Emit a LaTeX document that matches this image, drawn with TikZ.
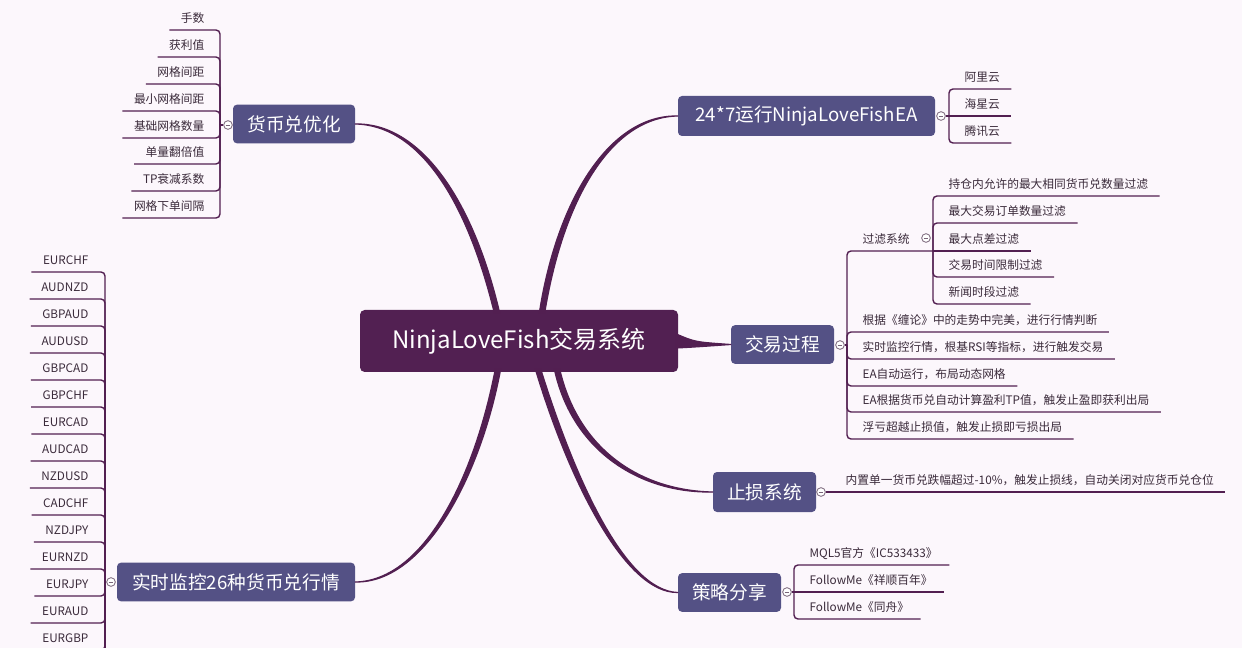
\documentclass[tikz,border=0pt]{standalone}
\usepackage{fontspec}
\setmainfont{Noto Sans CJK SC}
\usetikzlibrary{calc}
\definecolor{bgc}{RGB}{252,247,252}
\definecolor{rootc}{RGB}{82,32,82}
\definecolor{topicc}{RGB}{84,81,133}
\definecolor{linec}{RGB}{82,31,81}
\definecolor{leafc}{RGB}{58,42,58}
\definecolor{knobc}{RGB}{120,100,120}
\begin{document}
\begin{tikzpicture}[x=0.75pt,y=-0.75pt,
  root/.style={fill=rootc,text=white,rounded corners=3.5pt,minimum width=238.5pt,minimum height=46.5pt,inner sep=0pt,font=\fontsize{18}{21}\selectfont},
  topic/.style={fill=topicc,text=white,rounded corners=3pt,minimum height=29pt,inner sep=0pt,font=\fontsize{14}{16}\selectfont},
  leaf/.style={text=leafc,inner xsep=8.5pt,inner ysep=3.2pt,text height=7.5pt,text depth=2.5pt,font=\fontsize{8.8}{10}\selectfont},
  leafr/.style={leaf,anchor=south west},
  leafl/.style={leaf,anchor=south east},
  knob/.style={circle,draw=knobc,fill=white,line width=0.6pt,minimum size=6.5pt,inner sep=0pt,
    path picture={\draw[knobc,line width=0.5pt] ([xshift=-1.8pt]path picture bounding box.center) -- ([xshift=1.8pt]path picture bounding box.center);}},
  branch/.style={fill=linec,draw=linec,line width=0.9pt,line join=round},
  twig/.style={draw=linec,line width=1.05pt,rounded corners=3pt}]
\useasboundingbox (0,0) rectangle (1242,648);
\fill[bgc] (0,0) rectangle (1242,648);
\clip (0,0) rectangle (1242,648);

\node[root] (root) at (519,341) {NinjaLoveFish交易系统};
\node[topic,minimum width=91.5pt] (opt) at (294,124) {货币兑优化};
\node[topic,minimum width=192.75pt,minimum height=30pt] (run) at (806.5,116) {24*7运行NinjaLoveFishEA};
\node[topic,minimum width=77.25pt] (proc) at (782.5,344.5) {交易过程};
\node[topic,minimum width=77.25pt,minimum height=30pt] (stop) at (764.5,492) {止损系统};
\node[topic,minimum width=178.5pt] (mon) at (236,582) {实时监控26种货币兑行情};
\node[topic,minimum width=77.25pt] (share) at (729.5,592.5) {策略分享};

\coordinate (ropt) at (497,313);
\coordinate (rrun) at (542,313);
\coordinate (rmon) at (498,369);
\coordinate (rshare) at (538,369);
\coordinate (rstop) at (557,369);

\filldraw[branch] ($(ropt)+(-2.7,0)$) .. controls (467,201) and (420,125.5) .. (opt.east) .. controls (420,122.5) and (473,199) .. ($(ropt)+(2.7,0)$) -- cycle;
\filldraw[branch] ($(rrun)+(-2.7,0)$) .. controls (557,199) and (610,114.5) .. (run.west) .. controls (610,117.5) and (563,201) .. ($(rrun)+(2.7,0)$) -- cycle;
\filldraw[branch] ($(root.east)+(-2,-7)$) .. controls (695,342) .. (proc.west) .. controls (695,347) .. ($(root.east)+(-2,7)$) -- cycle;
\filldraw[branch] ($(rstop)+(-2.7,0)$) .. controls (572,451) and (640,493.5) .. (stop.west) .. controls (640,490.5) and (578,449) .. ($(rstop)+(2.7,0)$) -- cycle;
\filldraw[branch] ($(rmon)+(-2.7,0)$) .. controls (475,475) and (425,580.5) .. (mon.east) .. controls (425,583.5) and (481,475) .. ($(rmon)+(2.7,0)$) -- cycle;
\filldraw[branch] ($(rshare)+(-2.7,0)$) .. controls (569,481) and (625,593.5) .. (share.west) .. controls (625,590.5) and (575,479) .. ($(rshare)+(2.7,0)$) -- cycle;

\node[knob] (kopt) at (228,125) {};
\node[knob] (krun) at (941,116) {};
\node[knob] (kproc) at (840,345) {};
\node[knob] (kflt) at (926,238) {};
\node[knob] (kstop) at (821,492) {};
\node[knob] (kmon) at (111,582) {};
\node[knob] (kshare) at (787,592) {};

\coordinate (jopt) at (220,125);
\coordinate (jrun) at (949,116);
\coordinate (jproc) at (847,345);
\coordinate (jflt) at (933,251);
\coordinate (jshare) at (794,592);
\coordinate (jmon) at (105,582);
\coordinate (jmonend) at (105,700);

\node[leafl] (o1) at (216,30) {手数};
\node[leafl] (o2) at (216,57) {获利值};
\node[leafl] (o3) at (216,84) {网格间距};
\node[leafl] (o4) at (216,111) {最小网格间距};
\node[leafl] (o5) at (216,138) {基础网格数量};
\node[leafl] (o6) at (216,164) {单量翻倍值};
\node[leafl] (o7) at (216,191) {TP衰减系数};
\node[leafl] (o8) at (216,218) {网格下单间隔};
\draw[twig] (kopt) -- (jopt);
\draw[twig] (jopt) |- (o1.south west);
\draw[twig] (jopt) |- (o2.south west);
\draw[twig] (jopt) |- (o3.south west);
\draw[twig] (jopt) |- (o4.south west);
\draw[twig] (jopt) |- (o5.south west);
\draw[twig] (jopt) |- (o6.south west);
\draw[twig] (jopt) |- (o7.south west);
\draw[twig] (jopt) |- (o8.south west);

\node[leafr] (c1) at (953,89) {阿里云};
\node[leafr] (c2) at (953,116) {海星云};
\node[leafr] (c3) at (953,143) {腾讯云};
\draw[twig] (krun) -- (jrun);
\draw[twig] (jrun) |- (c1.south east);
\draw[twig] (jrun) -- (c2.south east);
\draw[twig] (jrun) |- (c3.south east);

\node[leafr] (flt) at (851,251) {过滤系统};
\node[leafr] (p1) at (851,332) {根据《缠论》中的走势中完美，进行行情判断};
\node[leafr] (p2) at (851,359) {实时监控行情，根基RSI等指标，进行触发交易};
\node[leafr] (p3) at (851,386) {EA自动运行，布局动态网格};
\node[leafr] (p4) at (851,412) {EA根据货币兑自动计算盈利TP值，触发止盈即获利出局};
\node[leafr] (p5) at (851,439) {浮亏超越止损值，触发止损即亏损出局};
\draw[twig] (kproc) -- (jproc);
\draw[twig] (jproc) |- (jflt);
\draw[twig] (jproc) |- (p1.south east);
\draw[twig] (jproc) |- (p2.south east);
\draw[twig] (jproc) |- (p3.south east);
\draw[twig] (jproc) |- (p4.south east);
\draw[twig] (jproc) |- (p5.south east);

\node[leafr] (f1) at (937,196) {持仓内允许的最大相同货币兑数量过滤};
\node[leafr] (f2) at (937,223) {最大交易订单数量过滤};
\node[leafr] (f3) at (937,251) {最大点差过滤};
\node[leafr] (f4) at (937,277) {交易时间限制过滤};
\node[leafr] (f5) at (937,304) {新闻时段过滤};
\draw[twig] (jflt) |- (f1.south east);
\draw[twig] (jflt) |- (f2.south east);
\draw[twig] (jflt) -- (f3.south east);
\draw[twig] (jflt) |- (f4.south east);
\draw[twig] (jflt) |- (f5.south east);

\node[leafr] (s1) at (834,492) {内置单一货币兑跌幅超过-10\%，触发止损线，自动关闭对应货币兑仓位};
\draw[twig] (kstop) -- (s1.south east);

\node[leafr] (h1) at (798,565) {MQL5官方《IC533433》};
\node[leafr] (h2) at (798,592) {FollowMe《祥顺百年》};
\node[leafr] (h3) at (798,619) {FollowMe《同舟》};
\draw[twig] (kshare) -- (jshare);
\draw[twig] (jshare) |- (h1.south east);
\draw[twig] (jshare) -- (h2.south east);
\draw[twig] (jshare) |- (h3.south east);

\node[leafl] (m1) at (100,272) {EURCHF};
\node[leafl] (m2) at (100,299) {AUDNZD};
\node[leafl] (m3) at (100,326) {GBPAUD};
\node[leafl] (m4) at (100,353) {AUDUSD};
\node[leafl] (m5) at (100,380) {GBPCAD};
\node[leafl] (m6) at (100,407) {GBPCHF};
\node[leafl] (m7) at (100,434) {EURCAD};
\node[leafl] (m8) at (100,461) {AUDCAD};
\node[leafl] (m9) at (100,488) {NZDUSD};
\node[leafl] (m10) at (100,515) {CADCHF};
\node[leafl] (m11) at (100,542) {NZDJPY};
\node[leafl] (m12) at (100,569) {EURNZD};
\node[leafl] (m13) at (100,596) {EURJPY};
\node[leafl] (m14) at (100,623) {EURAUD};
\node[leafl] (m15) at (100,650) {EURGBP};
\draw[twig] (kmon) -- (jmon);
\draw[twig] (jmon) -- (jmonend);
\draw[twig] (jmon) |- (m1.south west);
\draw[twig] (jmon) |- (m2.south west);
\draw[twig] (jmon) |- (m3.south west);
\draw[twig] (jmon) |- (m4.south west);
\draw[twig] (jmon) |- (m5.south west);
\draw[twig] (jmon) |- (m6.south west);
\draw[twig] (jmon) |- (m7.south west);
\draw[twig] (jmon) |- (m8.south west);
\draw[twig] (jmon) |- (m9.south west);
\draw[twig] (jmon) |- (m10.south west);
\draw[twig] (jmon) |- (m11.south west);
\draw[twig] (jmon) |- (m12.south west);
\draw[twig] (jmon) |- (m13.south west);
\draw[twig] (jmon) |- (m14.south west);
\draw[twig] (jmon) |- (m15.south west);
\end{tikzpicture}
\end{document}
